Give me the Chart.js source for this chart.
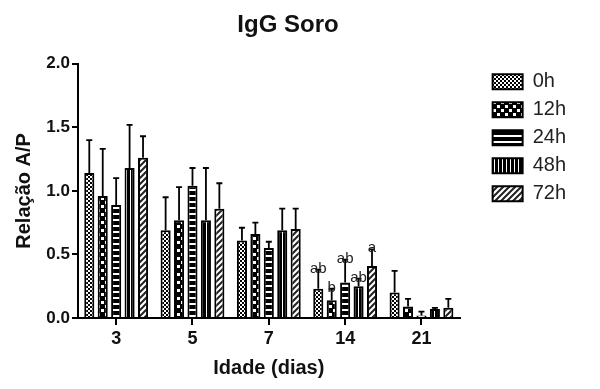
<!DOCTYPE html>
<html>
<head>
<meta charset="utf-8">
<script src="https://cdn.jsdelivr.net/npm/chart.js@4"></script>
<style>
  html, body { margin: 0; padding: 0; background: #fff; }
  #wrap { width: 600px; height: 389px; }
</style>
</head>
<body>
<div id="wrap"><canvas id="c" width="600" height="389"></canvas></div>
<script>
// ---- data ----
const categories = ['3', '5', '7', '14', '21'];
const seriesLabels = ['0h', '12h', '24h', '48h', '72h'];

const values0h  = [1.14, 0.69, 0.61, 0.23, 0.20];
const values12h = [0.96, 0.77, 0.66, 0.14, 0.09];
const values24h = [0.89, 1.04, 0.55, 0.28, 0.02];
const values48h = [1.18, 0.77, 0.69, 0.25, 0.07];
const values72h = [1.26, 0.86, 0.70, 0.41, 0.08];

const err0h  = [0.26, 0.26, 0.10, 0.15, 0.17];
const err12h = [0.37, 0.26, 0.09, 0.09, 0.06];
const err24h = [0.21, 0.14, 0.05, 0.18, 0.03];
const err48h = [0.34, 0.41, 0.17, 0.06, 0.01];
const err72h = [0.17, 0.20, 0.16, 0.13, 0.07];

const sig0h  = ['', '', '', 'ab', ''];
const sig12h = ['', '', '', 'b', ''];
const sig24h = ['', '', '', 'ab', ''];
const sig48h = ['', '', '', 'ab', ''];
const sig72h = ['', '', '', 'a', ''];

const yTicks = [0, 0.5, 1.0, 1.5, 2.0];

// ---- patterns ----
function makePattern(kind) {
  const c = document.createElement('canvas');
  const ctx = c.getContext('2d');
  if (kind === 'fineCheck') {
    c.width = 4; c.height = 4;
    ctx.fillStyle = '#fff'; ctx.fillRect(0, 0, 4, 4);
    ctx.fillStyle = '#000';
    ctx.fillRect(0, 0, 2, 2); ctx.fillRect(2, 2, 2, 2);
  } else if (kind === 'bigCheck') {
    c.width = 8; c.height = 8;
    ctx.fillStyle = '#000'; ctx.fillRect(0, 0, 8, 8);
    ctx.fillStyle = '#fff';
    ctx.fillRect(1, 1, 3, 3); ctx.fillRect(5, 5, 3, 3);
  } else if (kind === 'hLines') {
    c.width = 6; c.height = 6;
    ctx.fillStyle = '#000'; ctx.fillRect(0, 0, 6, 6);
    ctx.fillStyle = '#fff'; ctx.fillRect(0, 3, 6, 2);
  } else if (kind === 'vLines') {
    c.width = 4; c.height = 4;
    ctx.fillStyle = '#000'; ctx.fillRect(0, 0, 4, 4);
    ctx.fillStyle = '#fff'; ctx.fillRect(2, 0, 1, 4);
  } else if (kind === 'diag') {
    c.width = 6; c.height = 6;
    ctx.fillStyle = '#fff'; ctx.fillRect(0, 0, 6, 6);
    ctx.strokeStyle = '#222'; ctx.lineWidth = 2;
    ctx.beginPath();
    ctx.moveTo(-1, 7); ctx.lineTo(7, -1);
    ctx.moveTo(-4, 4); ctx.lineTo(4, -4);
    ctx.moveTo(2, 10); ctx.lineTo(10, 2);
    ctx.stroke();
  }
  return document.getElementById('c').getContext('2d').createPattern(c, 'repeat');
}

const FONT = "'Liberation Sans', Arial, sans-serif";

const seriesValues = [values0h, values12h, values24h, values48h, values72h];
const seriesErrors = [err0h, err12h, err24h, err48h, err72h];
const seriesSig = [sig0h, sig12h, sig24h, sig48h, sig72h];
const patternKinds = ['fineCheck', 'bigCheck', 'hLines', 'vLines', 'diag'];

const datasets = seriesLabels.map((lab, i) => ({
  label: lab,
  data: seriesValues[i],
  errors: seriesErrors[i],
  sig: seriesSig[i],
  backgroundColor: makePattern(patternKinds[i]),
  borderColor: '#000',
  borderWidth: 2,
  borderSkipped: 'bottom',
  barPercentage: 0.75,
  categoryPercentage: 0.88
}));

const errorBarPlugin = {
  id: 'errorBars',
  afterDatasetsDraw(chart) {
    const ctx = chart.ctx;
    const yScale = chart.scales.y;
    ctx.save();
    chart.data.datasets.forEach((ds, di) => {
      const meta = chart.getDatasetMeta(di);
      meta.data.forEach((bar, j) => {
        const v = ds.data[j];
        const e = ds.errors[j];
        const yTop = yScale.getPixelForValue(v + e);
        const yBar = yScale.getPixelForValue(v);
        ctx.strokeStyle = '#000';
        ctx.lineWidth = 1.8;
        ctx.beginPath();
        ctx.moveTo(bar.x, yBar);
        ctx.lineTo(bar.x, yTop);
        ctx.moveTo(bar.x - 3, yTop);
        ctx.lineTo(bar.x + 3, yTop);
        ctx.stroke();
        const s = ds.sig[j];
        if (s) {
          ctx.fillStyle = '#222';
          ctx.font = '15px ' + FONT;
          ctx.textAlign = 'center';
          ctx.textBaseline = 'alphabetic';
          ctx.fillText(s, bar.x, yTop + 3);
        }
      });
    });
    ctx.restore();
  }
};

new Chart(document.getElementById('c'), {
  type: 'bar',
  data: { labels: categories, datasets },
  plugins: [errorBarPlugin],
  options: {
    responsive: false,
    animation: false,
    layout: { padding: { left: 0, right: 24, top: 0, bottom: 0 } },
    plugins: {
      tooltip: { enabled: false },
      title: {
        display: true,
        text: 'IgG Soro',
        color: '#111',
        font: { family: FONT, size: 24, weight: 'bold' },
        padding: { top: 11, bottom: 24 }
      },
      legend: {
        position: 'right',
        align: 'start',
        fullSize: false,
        labels: {
          boxWidth: 30,
          boxHeight: 15,
          padding: 8,
          color: '#222',
          font: { family: FONT, size: 20 }
        }
      }
    },
    scales: {
      x: {
        offset: true,
        grid: { display: true, drawOnChartArea: false, offset: false, color: '#000', lineWidth: 2, tickLength: 7 },
        border: { display: true, color: '#000', width: 2 },
        ticks: { color: '#111', padding: 3, font: { family: FONT, size: 18, weight: 'bold' } },
        title: { display: true, text: 'Idade (dias)', color: '#111', padding: { top: 9, bottom: 9 }, font: { family: FONT, size: 20, weight: 'bold' } },
        afterFit(s) { s.height = 71; }
      },
      y: {
        min: 0, max: 2,
        afterBuildTicks(s) { s.ticks = yTicks.map(v => ({ value: v })); },
        grid: { display: true, drawOnChartArea: false, color: '#000', lineWidth: 2, tickLength: 6 },
        border: { display: true, color: '#000', width: 2 },
        ticks: { color: '#111', padding: 2, font: { family: FONT, size: 17, weight: 'bold' }, callback: v => Number(v).toFixed(1) },
        title: { display: true, text: 'Relação A/P', color: '#111', padding: { top: 12, bottom: 10 }, font: { family: FONT, size: 20, weight: 'bold' } },
        afterFit(s) { s.width = 78; }
      },
      y2: {
        position: 'right',
        display: true,
        grid: { display: false },
        border: { display: false },
        ticks: { display: false },
        afterFit(s) { s.width = 25; }
      }
    }
  }
});
</script>
</body>
</html>
